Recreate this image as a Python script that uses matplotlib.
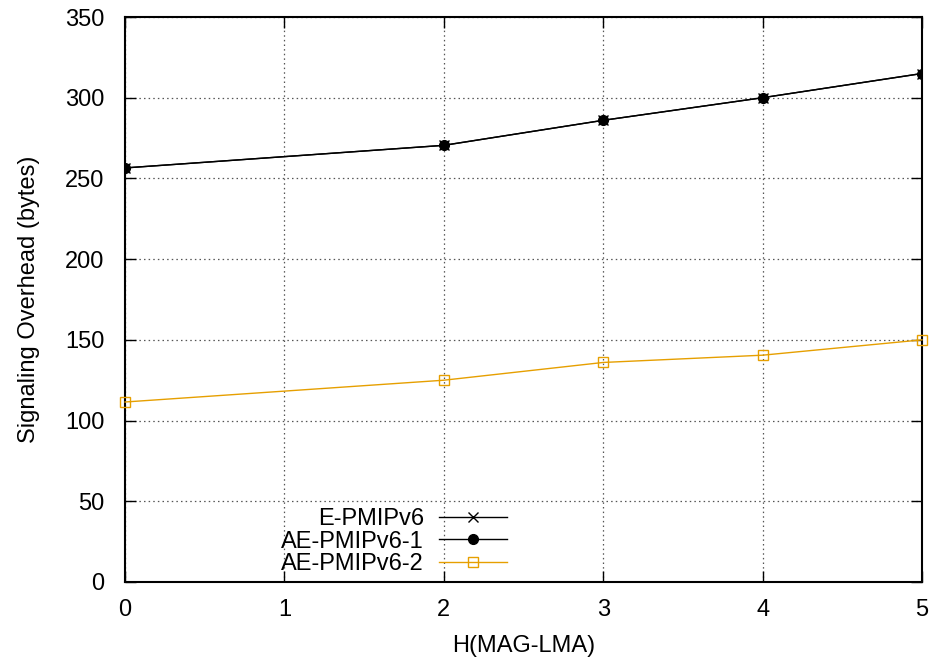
import numpy as np
import matplotlib
matplotlib.use("Agg")
import matplotlib.pyplot as plt

# hop counts between MAG and LMA
hops = [0, 2, 3, 4, 5]
e_pmipv6 = [256.5, 270.5, 286, 300, 315]
ae_pmipv6_1 = [256.5, 270.5, 286, 300, 315]
ae_pmipv6_2 = [111.5, 125, 136, 140.5, 150]

x_ticks = [0, 1, 2, 3, 4, 5]
y_ticks = [0, 50, 100, 150, 200, 250, 300, 350]

plt.rcParams['font.family'] = ['Liberation Sans', 'DejaVu Sans']
plt.rcParams['font.size'] = 17

fig = plt.figure(figsize=(9.41, 6.59), dpi=100)
ax = fig.add_axes([125 / 941, 77 / 659, 797 / 941, 565 / 659])

orange = '#e69f00'
ax.plot(hops, e_pmipv6, color='black', lw=1, marker='x', ms=7, mew=1, label='E-PMIPv6', zorder=3)
ax.plot(hops, ae_pmipv6_1, color='black', lw=1, marker='o', ms=7, label='AE-PMIPv6-1', zorder=4)
ax.plot(hops, ae_pmipv6_2, color=orange, lw=1, marker='s', ms=7, mfc='none', mew=1,
        label='AE-PMIPv6-2', zorder=3, clip_on=False)

ax.set_xlim(0, 5)
ax.set_ylim(0, 350)
ax.set_xticks(x_ticks)
ax.set_yticks(y_ticks)
ax.tick_params(direction='in', length=8, width=1, top=True, right=True)
ax.tick_params(axis='y', pad=15)
ax.tick_params(axis='x', pad=12)
ax.grid(True, linestyle=(0, (1.2, 2.5)), color='#555555', lw=0.9)
for s in ax.spines.values():
    s.set_linewidth(1.5)

ax.set_xlabel('H(MAG-LMA)', labelpad=10)
ax.set_ylabel('Signaling Overhead (bytes)', labelpad=18)

leg = ax.legend(loc='lower right', bbox_to_anchor=(0.479, 0.012), frameon=False, markerfirst=False,
                handlelength=2.85, handletextpad=0.65, labelspacing=0.03, borderaxespad=0,
                borderpad=0)
for t in leg.get_texts():
    t.set_ha('right')
leg._legend_box.align = 'right'

fig.savefig('out.png', dpi=100)
